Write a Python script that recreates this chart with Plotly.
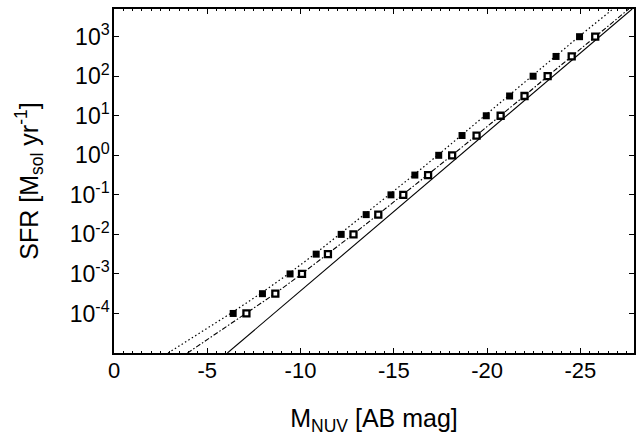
import plotly.graph_objects as go

# Marker data: SFR levels and NUV absolute magnitudes
sfr_levels = [1e-4, 10**-3.5, 1e-3, 10**-2.5, 1e-2, 10**-1.5, 1e-1, 10**-0.5,
              1e0, 10**0.5, 1e1, 10**1.5, 1e2, 10**2.5, 1e3]
mag_filled = [-6.39, -7.96, -9.44, -10.84, -12.18, -13.52, -14.85, -16.13,
              -17.41, -18.66, -19.96, -21.21, -22.47, -23.70, -24.96]
mag_open = [-7.10, -8.65, -10.08, -11.47, -12.84, -14.17, -15.51, -16.84,
            -18.13, -19.44, -20.73, -22.01, -23.25, -24.54, -25.80]

# Lines (magnitude, SFR)
solid_mag = [-6.08, -27.78]
solid_sfr = [1e-5, 10**3.7]

dotted_mag = [-2.9, -4.6, -6.25, -7.85, -9.35, -10.76, -12.1, -13.45, -14.78,
              -16.07, -17.35, -18.6, -19.9, -21.15, -22.41, -23.66, -24.92, -26.75]
dotted_sfr = [1e-5, 10**-4.5, 1e-4, 10**-3.5, 1e-3, 10**-2.5, 1e-2, 10**-1.5, 1e-1,
              10**-0.5, 1e0, 10**0.5, 1e1, 10**1.5, 1e2, 10**2.5, 1e3, 10**3.7]

dashdot_mag = [-3.94, -5.5, -7.08, -8.63, -10.06, -11.45, -12.82, -14.15, -15.49,
               -16.82, -18.12, -19.42, -20.72, -22.0, -23.25, -24.52, -25.78, -27.6]
dashdot_sfr = [1e-5, 10**-4.5, 1e-4, 10**-3.5, 1e-3, 10**-2.5, 1e-2, 10**-1.5, 1e-1,
               10**-0.5, 1e0, 10**0.5, 1e1, 10**1.5, 1e2, 10**2.5, 1e3, 10**3.7]

x_ticks = [0, -5, -10, -15, -20, -25]
x_ticktext = ["0", "-5", "-10", "-15", "-20", "-25"]
y_ticks = [1e-4, 1e-3, 1e-2, 1e-1, 1e0, 1e1, 1e2, 1e3]
y_ticktext = ["10<sup>-4</sup>", "10<sup>-3</sup>", "10<sup>-2</sup>", "10<sup>-1</sup>",
              "10<sup>0</sup>", "10<sup>1</sup>", "10<sup>2</sup>", "10<sup>3</sup>"]

fig = go.Figure()
fig.add_trace(go.Scatter(x=solid_mag, y=solid_sfr, mode="lines",
                         line=dict(color="black", width=1.1)))
fig.add_trace(go.Scatter(x=dotted_mag, y=dotted_sfr, mode="lines",
                         line=dict(color="black", width=1.2, dash="1.5px,2.5px")))
fig.add_trace(go.Scatter(x=dashdot_mag, y=dashdot_sfr, mode="lines",
                         line=dict(color="black", width=1.1, dash="5px,2px,1.5px,2px")))
fig.add_trace(go.Scatter(x=mag_filled, y=sfr_levels, mode="markers",
                         marker=dict(symbol="square", size=7, color="black",
                                     line=dict(width=0))))
fig.add_trace(go.Scatter(x=mag_open, y=sfr_levels, mode="markers",
                         marker=dict(symbol="square", size=6, color="white",
                                     line=dict(width=2.3, color="black"))))

font = "Liberation Sans, Arial, Helvetica, sans-serif"
fig.update_layout(
    width=637, height=437,
    margin=dict(l=114, r=1, t=9, b=84),
    plot_bgcolor="white", paper_bgcolor="white",
    showlegend=False,
    font=dict(family=font, color="black", size=22),
    xaxis=dict(
        range=[0, -27.88], tickvals=x_ticks, ticktext=x_ticktext,
        ticks="inside", ticklen=5, tickwidth=1, tickcolor="black",
        showline=True, linecolor="black", linewidth=1.5, mirror="ticks",
        showgrid=False, zeroline=False,
        minor=dict(dtick=0.5, ticks="inside", ticklen=2.5, tickcolor="black",
                   tickwidth=1, showgrid=False),
        tickfont=dict(size=22), ticklabelstandoff=-3,
        title=dict(text="M<sub>NUV</sub> [AB mag]", font=dict(size=25), standoff=27),
    ),
    yaxis=dict(
        type="log", range=[-5, 3.7], tickvals=y_ticks, ticktext=y_ticktext,
        ticks="inside", ticklen=5, tickwidth=1, tickcolor="black",
        showline=True, linecolor="black", linewidth=1.5, mirror="ticks",
        showgrid=False, zeroline=False,
        tickfont=dict(size=23), ticklabelstandoff=-2,
        title=dict(text="SFR [M<sub>sol</sub> yr<sup>-1</sup>]", font=dict(size=25), standoff=24),
    ),
)

fig.write_html("out.html", config={"displayModeBar": False},
               post_script="document.body.style.margin='0';"
                           "document.body.style.overflow='hidden';")
